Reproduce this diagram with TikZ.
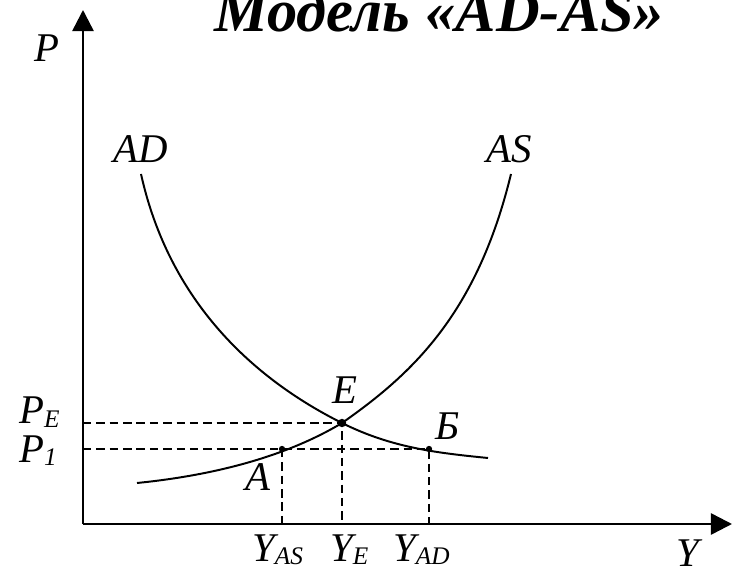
\documentclass[tikz,border=0pt]{standalone}
\usepackage{fontspec}
\setmainfont{Liberation Serif}
\usetikzlibrary{arrows.meta}
\newcommand{\lowidx}[1]{\raisebox{-2.5pt}{\fontsize{18}{18}\selectfont\itshape #1}}
\tikzset{
  axis/.style={line width=1.8pt, -{Triangle[length=15pt,width=15pt]}},
  curve/.style={line width=1.4pt},
  guide/.style={line width=1.3pt, dash pattern=on 6pt off 3.5pt},
  lbl/.style={font=\fontsize{29}{29}\selectfont\itshape, inner sep=0pt},
  dot/.style={circle, fill, inner sep=0pt, minimum size=4.5pt},
  titletext/.style={font=\fontsize{43}{43}\selectfont\bfseries\itshape,
                    inner sep=0pt, anchor=base west},
}

\begin{document}
\begin{tikzpicture}[x=0.025cm, y=0.025cm]
    \useasboundingbox (-83,-50) rectangle (649,524);
    \coordinate (O) at (0,0);
    \coordinate (ytip) at (0,514);
    \coordinate (xtip) at (649,0);
    \coordinate (E) at (259,101);
    \coordinate (A) at (199,75);
    \coordinate (B) at (346,75);
    \draw[guide] (O |- E) -- (E) -- (E |- O);
    \draw[guide] (O |- A) -- (B) -- (B |- O);
    \draw[guide] (A) -- (A |- O);
    \draw[curve] (58,350) .. controls (88,215) and (179,141) .. (E)
                 .. controls (309,76) and (355,71) .. (405,66);
    \draw[curve] (54,41) .. controls (124,48) and (199,65) .. (E)
                 .. controls (329,150) and (394,210) .. (428,350);
    \draw[axis] (O) -- (ytip);
    \draw[axis] (O) -- (xtip);
    \node[dot, minimum size=6pt] (dE) at (E) {};
    \node[dot] (dA) at (A) {};
    \node[dot] (dB) at (B) {};
    \node[titletext] (title) at (131,492) {Модель «AD-AS»};
    \node[lbl] (labP) at (-36,476) {P};
    \node[lbl] (labAD) at (58,375) {AD};
    \node[lbl] (labAS) at (426,375) {AS};
    \node[lbl] (labE) at (262,134) {E};
    \node[lbl] (labB) at (365,98) {Б};
    \node[lbl] (labA) at (175,47) {A};
    \node[lbl] (labY) at (605,-29) {Y};
    \node[lbl, anchor=base west] (labPE) at (-64,100) {P\lowidx{E}};
    \node[lbl, anchor=base west] (labP1) at (-64,62) {P\lowidx{1}};
    \node[lbl, anchor=base west] (labYAS) at (169,-37) {Y\lowidx{AS}};
    \node[lbl, anchor=base west] (labYE) at (247,-37) {Y\lowidx{E}};
    \node[lbl, anchor=base west] (labYAD) at (310,-37) {Y\lowidx{AD}};
\end{tikzpicture}
\end{document}
